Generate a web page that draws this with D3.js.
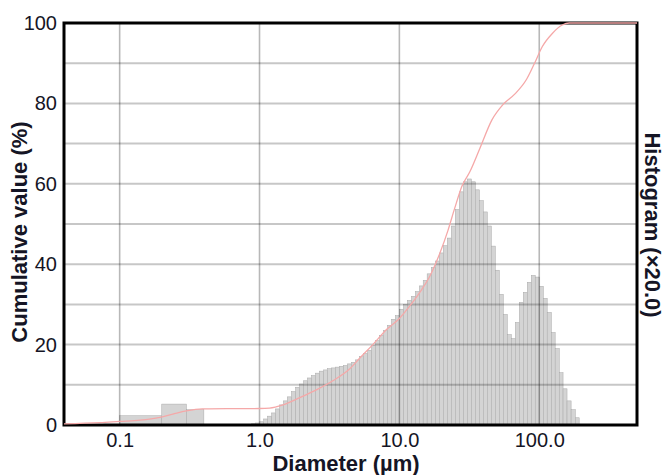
<!DOCTYPE html>
<html lang="en">
<head>
<meta charset="utf-8">
<title>Particle size distribution</title>
<script src="https://d3js.org/d3.v7.min.js"></script>
<style>
    body { margin: 0; background: #fff; }
    svg { display: block; font-family: "Liberation Sans", Arial, sans-serif; }
    .title { fill: #151525; font-size: 22px; font-weight: bold; }
</style>
</head>
<body>
<svg width="665" height="475"></svg>
<script>
    // low-size channels (wide bins) and main histogram channels, displayed x20
    var lowEdges = [0.1, 0.2, 0.3, 0.4];
    var lowHeights = [2.3, 5.2, 3.8];

    var binEdges = [0.877, 0.936, 1.00, 1.07, 1.14, 1.22, 1.30, 1.39, 1.48, 1.58, 1.69, 1.81, 1.93, 2.06,
        2.20, 2.35, 2.51, 2.68, 2.87, 3.06, 3.27, 3.49, 3.73, 3.98, 4.25, 4.54, 4.85, 5.18, 5.53, 5.91,
        6.31, 6.74, 7.20, 7.69, 8.21, 8.77, 9.36, 10.0, 10.7, 11.4, 12.2, 13.0, 13.9, 14.8, 15.8, 16.9,
        18.1, 19.3, 20.6, 22.0, 23.5, 25.1, 26.8, 28.7, 30.6, 32.7, 34.9, 37.3, 39.8, 42.5, 45.4, 48.5,
        51.8, 55.3, 59.1, 63.1, 67.4, 72.0, 76.9, 82.1, 87.7, 93.6, 100, 107, 114, 122, 130, 139, 148,
        158, 169, 181, 193];
    var binHeights = [0.3, 0.5, 0.8, 1.5, 2.2, 3.0, 4.0, 5.0, 6.0, 7.0, 8.3, 9.4, 10.2, 11.0, 11.7, 12.3,
        12.9, 13.4, 13.7, 14.0, 14.2, 14.4, 14.6, 14.8, 15.2, 15.6, 16.2, 17.0, 17.8, 18.6, 19.8, 21.0,
        22.3, 23.5, 24.8, 26.3, 27.2, 28.8, 30.0, 31.0, 32.0, 33.2, 34.6, 36.0, 37.6, 39.2, 40.8, 42.8,
        44.6, 46.5, 49.5, 53.6, 58.0, 60.5, 61.2, 60.5, 58.5, 55.8, 53.0, 49.5, 44.5, 38.5, 32.5, 27.5,
        22.5, 21.5, 25.5, 30.5, 33.0, 35.5, 37.2, 36.8, 34.5, 31.5, 28.0, 23.0, 19.0, 13.0, 9.0, 6.0,
        3.8, 1.8];

    // cumulative curve
    var cumSizes = [0.04, 0.072, 0.1, 0.14, 0.194, 0.24, 0.30, 0.39, 0.58, 1.0, 1.18, 1.47, 1.94, 2.57,
        3.34, 4.42, 5.2, 6.46, 8.13, 10.0, 11.8, 14.0, 16.5, 19.5, 22.2, 24.9, 28.0, 31.9, 37.6, 45.9,
        55.0, 66.8, 81.2, 92.6, 105, 124, 146, 164, 500];
    var cumValues = [0.3, 0.6, 0.9, 1.2, 1.9, 2.7, 3.5, 4.0, 4.05, 4.1, 4.2, 5.0, 6.8, 8.8,
        11.0, 14.0, 16.6, 20.0, 23.8, 26.5, 29.5, 33.0, 37.0, 42.8, 48.3, 54.0, 59.4, 63.0, 68.8, 75.9,
        79.7, 82.3, 86.0, 90.0, 94.1, 97.4, 99.5, 100, 100];

    var xTicks = [0.1, 1, 10, 100];
    var xTickLabels = ["0.1", "1.0", "10.0", "100.0"];
    var yTicks = [0, 20, 40, 60, 80, 100];
    var yGrid = [10, 20, 30, 40, 50, 60, 70, 80, 90];

    var svg = d3.select("svg"),
        plot = {left: 64, right: 637, top: 23, bottom: 425};

    var x = d3.scaleLog().domain([0.04, 500]).range([plot.left, plot.right]),
        y = d3.scaleLinear().domain([0, 100]).range([plot.bottom, plot.top]);

    var bars = [];
    lowHeights.forEach(function(h, i) { bars.push({x0: lowEdges[i], x1: lowEdges[i + 1], h: h}); });
    binHeights.forEach(function(h, i) { bars.push({x0: binEdges[i], x1: binEdges[i + 1], h: h}); });

    svg.append("g").selectAll("rect")
        .data(bars)
        .enter().append("rect")
        .attr("x", function(d) { return x(d.x0); })
        .attr("width", function(d) { return x(d.x1) - x(d.x0); })
        .attr("y", function(d) { return y(d.h); })
        .attr("height", function(d) { return y(0) - y(d.h); })
        .attr("fill", "#d4d4d4")
        .attr("stroke", "#a8a8a8")
        .attr("stroke-width", 0.5);

    // grid on top of the bars
    svg.append("g").selectAll("line")
        .data(yGrid)
        .enter().append("line")
        .attr("x1", plot.left).attr("x2", plot.right)
        .attr("y1", function(d) { return y(d); })
        .attr("y2", function(d) { return y(d); })
        .attr("stroke", "rgba(0,0,0,0.22)")
        .attr("stroke-width", 2);

    svg.append("g").selectAll("line")
        .data(xTicks)
        .enter().append("line")
        .attr("x1", function(d) { return x(d); })
        .attr("x2", function(d) { return x(d); })
        .attr("y1", plot.top).attr("y2", plot.bottom)
        .attr("stroke", "rgba(0,0,0,0.28)")
        .attr("stroke-width", 1.6);

    // frame
    svg.append("rect")
        .attr("x", plot.left).attr("y", plot.top)
        .attr("width", plot.right - plot.left).attr("height", plot.bottom - plot.top)
        .attr("fill", "none")
        .attr("stroke", "#000")
        .attr("stroke-width", 3);

    var line = d3.line()
        .curve(d3.curveMonotoneX)
        .x(function(d, i) { return x(cumSizes[i]); })
        .y(function(d) { return y(d); });

    svg.append("path")
        .datum(cumValues)
        .attr("d", line)
        .attr("fill", "none")
        .attr("stroke", "#f5a8a8")
        .attr("stroke-width", 1.3);

    // axes
    var yAxis = svg.append("g")
        .attr("transform", "translate(" + (plot.left - 1) + ",0)")
        .call(d3.axisLeft(y).tickValues(yTicks).tickSize(0).tickPadding(6));
    yAxis.select(".domain").remove();

    var xAxis = svg.append("g")
        .attr("transform", "translate(0," + (plot.bottom + 2) + ")")
        .call(d3.axisBottom(x).tickValues(xTicks).tickSize(0).tickPadding(6)
            .tickFormat(function(d, i) { return xTickLabels[i]; }));
    xAxis.select(".domain").remove();

    svg.selectAll(".tick text")
        .attr("fill", "#151525")
        .style("font-family", "'Liberation Sans', Arial, sans-serif")
        .style("font-size", "20px");

    svg.append("text")
        .attr("class", "title")
        .attr("x", 346).attr("y", 471)
        .attr("text-anchor", "middle")
        .text("Diameter (µm)");

    svg.append("text")
        .attr("class", "title")
        .attr("transform", "translate(27,232) rotate(-90)")
        .attr("text-anchor", "middle")
        .text("Cumulative value (%)");

    svg.append("text")
        .attr("class", "title")
        .attr("transform", "translate(645,225) rotate(90)")
        .attr("text-anchor", "middle")
        .text("Histogram (×20.0)");
</script>
</body>
</html>
